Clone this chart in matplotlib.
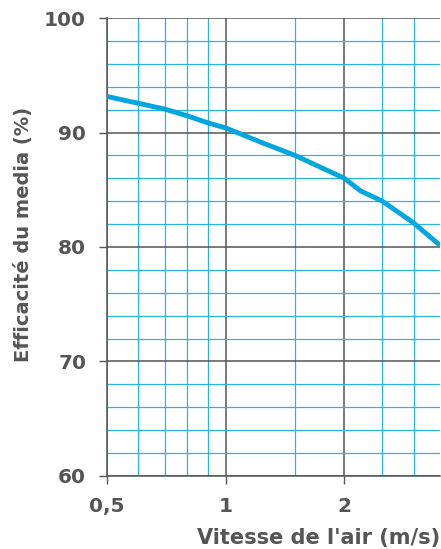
import matplotlib
matplotlib.use("Agg")
import matplotlib.pyplot as plt
from matplotlib.ticker import FixedLocator, FixedFormatter, NullFormatter

# air speed (m/s) and media efficiency (%)
vitesse = [0.5, 0.6, 0.7, 0.8, 0.9, 1.0, 1.25, 1.5, 2.0, 2.2, 2.5, 3.0, 3.5]
efficacite = [93.15, 92.55, 92.05, 91.45, 90.85, 90.4, 89.05, 88.0, 86.0, 84.9, 84.0, 82.1, 80.15]

x_major = [0.5, 1, 2]
x_major_labels = ["0,5", "1", "2"]
x_minor = [0.6, 0.7, 0.8, 0.9, 1.5, 2.5, 3.0]
y_major = [60, 70, 80, 90, 100]
y_minor = [62, 64, 66, 68, 72, 74, 76, 78, 82, 84, 86, 88, 92, 94, 96, 98]

dark = "#555555"
blue_grid = "#2ab4e6"
blue_line = "#00a6df"

fig = plt.figure(figsize=(4.41, 5.49), dpi=100)
ax = fig.add_axes([107 / 441, 1 - 476 / 549, 333 / 441, 458 / 549])

ax.set_xscale("log")
ax.set_xlim(0.5, 3.5)
ax.set_ylim(60, 100)

ax.xaxis.set_major_locator(FixedLocator(x_major))
ax.xaxis.set_major_formatter(FixedFormatter(x_major_labels))
ax.xaxis.set_minor_locator(FixedLocator(x_minor))
ax.xaxis.set_minor_formatter(NullFormatter())
ax.yaxis.set_major_locator(FixedLocator(y_major))
ax.yaxis.set_minor_locator(FixedLocator(y_minor))

#grid: blue minor lines under dark major lines
ax.grid(which="minor", color=blue_grid, linewidth=0.9, zorder=0)
ax.grid(which="major", color=dark, linewidth=1.1, zorder=1)
ax.set_axisbelow(True)

ax.plot(vitesse, efficacite, color=blue_line, linewidth=3.5, zorder=3, solid_capstyle="butt")

for side in ["top", "right"]:
    ax.spines[side].set_visible(False)
for side in ["left", "bottom"]:
    ax.spines[side].set_color(dark)
    ax.spines[side].set_linewidth(1.1)

ax.tick_params(which="major", length=6, width=1.0, color=dark, labelcolor=dark,
               labelsize=14.5, pad=9)
ax.tick_params(which="minor", length=0)
for lab in ax.get_xticklabels() + ax.get_yticklabels():
    lab.set_fontweight("bold")

ax.set_ylabel("Efficacité du media (%)", fontsize=14, fontweight="bold", color=dark)
ax.yaxis.set_label_coords(-0.222, 0.527)
ax.set_xlabel("Vitesse de l'air (m/s)", fontsize=15, fontweight="bold", color=dark,
              loc="right")
ax.xaxis.set_label_coords(1.0, -0.113)

fig.savefig("out.png", dpi=100)
